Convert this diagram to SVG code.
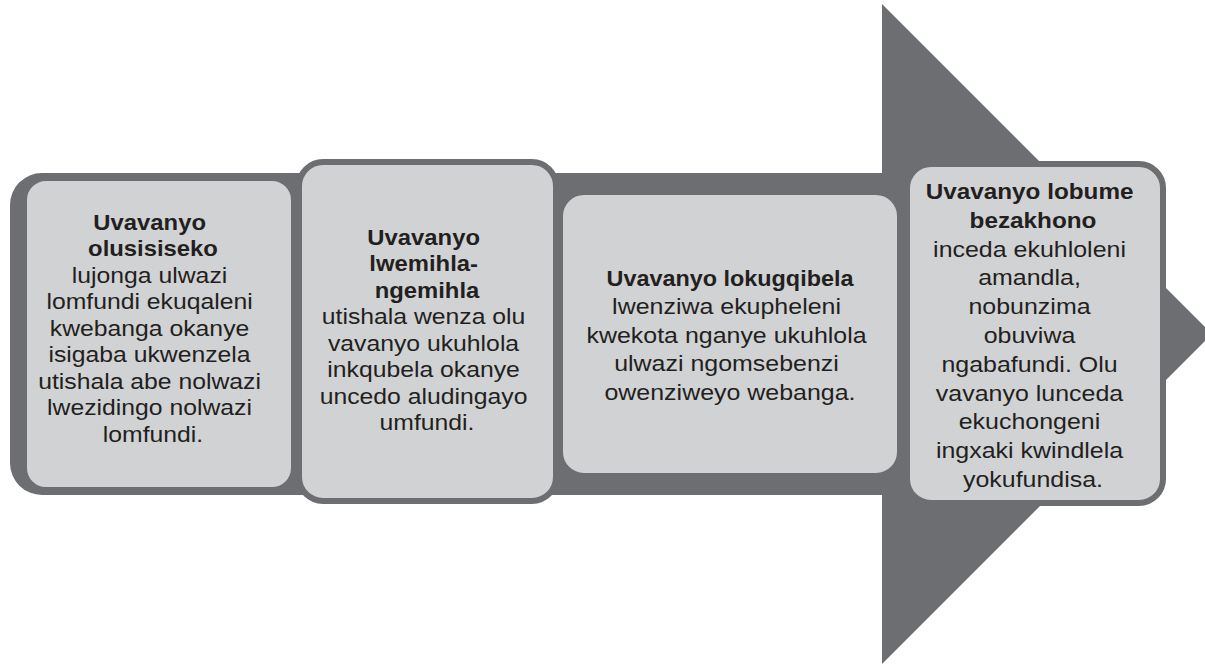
<svg xmlns="http://www.w3.org/2000/svg" width="1205" height="664" viewBox="0 0 1205 664">
  <style>
    .arrow { fill: #6d6e71; }
    .box { fill: #d1d2d4; stroke: #6d6e71; stroke-width: 6; }
    .t { font-family: "Liberation Sans", Arial, sans-serif; font-size: 22.5px; fill: #231f20; text-anchor: middle; }
    .b { font-weight: bold; }
  </style>
  <rect x="0" y="0" width="1205" height="664" fill="#ffffff"/>
  <g id="arrow">
    <path class="arrow" d="M42,173 H882 V4 L1212,334 L882,664 V495 H42 A32,32 0 0 1 10,463 V205 A32,32 0 0 1 42,173 Z"/>
  </g>
  <g id="connectors"></g>
  <g id="node1">
    <rect class="box" x="24" y="178" width="270" height="312" rx="22"/>
    <text class="t b" transform="matrix(1.06,0,0,1,-9.18,0)">
      <tspan x="153" y="230">Uvavanyo</tspan>
      <tspan x="153" y="256.5">olusisiseko</tspan>
    </text>
    <text class="t" transform="matrix(1.10,0,0,1,-15.3,0)">
      <tspan x="153" y="283">lujonga ulwazi</tspan>
      <tspan x="153" y="309.5">lomfundi ekuqaleni</tspan>
      <tspan x="153" y="336">kwebanga okanye</tspan>
      <tspan x="153" y="362.5">isigaba ukwenzela</tspan>
      <tspan x="153" y="389">utishala abe nolwazi</tspan>
      <tspan x="153" y="415.5">lwezidingo nolwazi</tspan>
      <tspan x="153" y="442">lomfundi.</tspan>
    </text>
  </g>
  <g id="node2">
    <rect class="box" x="299" y="162" width="257" height="339" rx="24"/>
    <text class="t b" transform="matrix(1.06,0,0,1,-25.62,0)">
      <tspan x="427" y="245">Uvavanyo</tspan>
      <tspan x="427" y="271.5">lwemihla-</tspan>
      <tspan x="427" y="298">ngemihla</tspan>
    </text>
    <text class="t" transform="matrix(1.10,0,0,1,-42.7,0)">
      <tspan x="427" y="324.5">utishala wenza olu</tspan>
      <tspan x="427" y="351">vavanyo ukuhlola</tspan>
      <tspan x="427" y="377.5">inkqubela okanye</tspan>
      <tspan x="427" y="404">uncedo aludingayo</tspan>
      <tspan x="427" y="430.5">umfundi.</tspan>
    </text>
  </g>
  <g id="node3">
    <rect class="box" x="560" y="192" width="340" height="284" rx="24"/>
    <text class="t b" transform="matrix(1.04,0,0,1,-29.2,0)">
      <tspan x="730" y="286">Uvavanyo lokugqibela</tspan>
    </text>
    <text class="t" transform="matrix(1.11,0,0,1,-80.3,0)">
      <tspan x="730" y="314.5">lwenziwa ekupheleni</tspan>
      <tspan x="730" y="343">kwekota nganye ukuhlola</tspan>
      <tspan x="730" y="371.5">ulwazi ngomsebenzi</tspan>
      <tspan x="730" y="400">owenziweyo webanga.</tspan>
    </text>
  </g>
  <g id="node4">
    <rect class="box" x="907" y="164" width="256" height="339" rx="24"/>
    <text class="t b" transform="matrix(1.08,0,0,1,-82.64,0)">
      <tspan x="1033" y="199">Uvavanyo lobume</tspan>
      <tspan x="1033" y="227.8">bezakhono</tspan>
    </text>
    <text class="t" transform="matrix(1.11,0,0,1,-113.63,0)">
      <tspan x="1033" y="256.6">inceda ekuhloleni</tspan>
      <tspan x="1033" y="285.4">amandla,</tspan>
      <tspan x="1033" y="314.2">nobunzima</tspan>
      <tspan x="1033" y="343">obuviwa</tspan>
      <tspan x="1033" y="371.8">ngabafundi. Olu</tspan>
      <tspan x="1033" y="400.6">vavanyo lunceda</tspan>
      <tspan x="1033" y="429.4">ekuchongeni</tspan>
      <tspan x="1033" y="458.2">ingxaki kwindlela</tspan>
      <tspan x="1033" y="487">yokufundisa.</tspan>
    </text>
  </g>
</svg>
